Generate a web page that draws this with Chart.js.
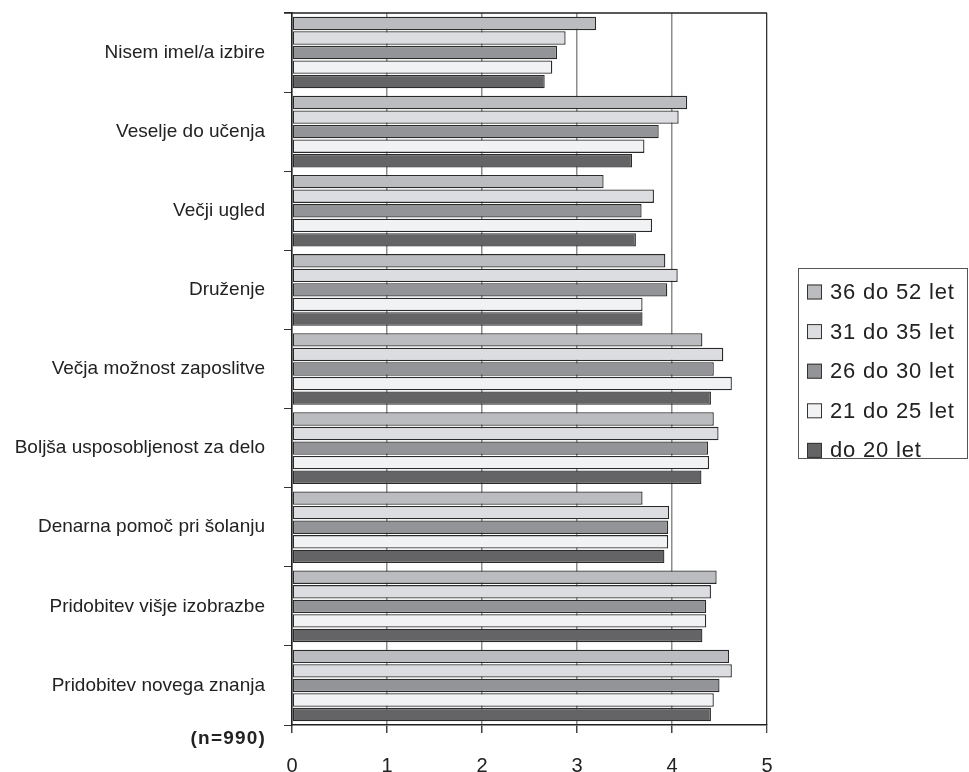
<!DOCTYPE html>
<html>
<head>
<meta charset="utf-8">
<script src="https://cdn.jsdelivr.net/npm/chart.js@4"></script>
<style>
    html, body { margin: 0; padding: 0; background: #fff; }
    #wrap { width: 969px; height: 772px; }
</style>
</head>
<body>
<div id="wrap"><canvas id="chart" width="969" height="772"></canvas></div>
<script>
const categories = [
    "Nisem imel/a izbire",
    "Veselje do učenja",
    "Večji ugled",
    "Druženje",
    "Večja možnost zaposlitve",
    "Boljša usposobljenost za delo",
    "Denarna pomoč pri šolanju",
    "Pridobitev višje izobrazbe",
    "Pridobitev novega znanja"
];

const seriesLabels = ["36 do 52 let", "31 do 35 let", "26 do 30 let", "21 do 25 let", "do 20 let"];
const seriesColors = ["#bbbcbf", "#dcdde0", "#939497", "#f1f2f4", "#646467"];

const age36to52 = [3.20, 4.16, 3.28, 3.93, 4.32, 4.44, 3.69, 4.47, 4.60];
const age31to35 = [2.88, 4.07, 3.81, 4.06, 4.54, 4.49, 3.97, 4.41, 4.63];
const age26to30 = [2.79, 3.86, 3.68, 3.95, 4.44, 4.38, 3.96, 4.36, 4.50];
const age21to25 = [2.74, 3.71, 3.79, 3.69, 4.63, 4.39, 3.96, 4.36, 4.44];
const ageTo20 = [2.66, 3.58, 3.62, 3.69, 4.41, 4.31, 3.92, 4.32, 4.41];

const xMin = 0;
const xMax = 5;
const sampleNote = "(n=990)";

const seriesValues = [age36to52, age31to35, age26to30, age21to25, ageTo20];

const FONT = "'Liberation Sans', Arial, sans-serif";

// top border, sample size note and boxed legend
const extras = {
    id: "extras",
    afterDraw(chart) {
        const ctx = chart.ctx;
        const area = chart.chartArea;

        ctx.save();
        ctx.strokeStyle = "#222";
        ctx.lineWidth = 1.5;
        ctx.beginPath();
        ctx.moveTo(area.left - 8, area.top);
        ctx.lineTo(area.right, area.top);
        ctx.stroke();

        ctx.fillStyle = "#222";
        ctx.font = "bold 19px " + FONT;
        ctx.letterSpacing = "1.2px";
        ctx.textAlign = "right";
        ctx.textBaseline = "middle";
        ctx.fillText(sampleNote, 266, 739);

        ctx.strokeStyle = "#555";
        ctx.lineWidth = 1;
        ctx.strokeRect(798.5, 268.5, 169, 190);

        ctx.font = "22px " + FONT;
        ctx.letterSpacing = "0.8px";
        ctx.textAlign = "left";
        chart.data.datasets.forEach((ds, i) => {
            const y = 292 + i * 39.6;
            ctx.fillStyle = ds.backgroundColor;
            ctx.fillRect(807, y - 7.5, 15, 15);
            ctx.strokeStyle = "#333";
            ctx.strokeRect(807.5, y - 7, 14, 14);
            ctx.fillStyle = "#222";
            ctx.fillText(ds.label, 830, y + 1);
        });
        ctx.restore();
    }
};

new Chart(document.getElementById("chart"), {
    type: "bar",
    data: {
        labels: categories,
        datasets: seriesLabels.map((label, i) => ({
            label: label,
            data: seriesValues[i],
            backgroundColor: seriesColors[i],
            borderColor: "#2a2a2a",
            borderWidth: 1.3,
            borderSkipped: false,
            categoryPercentage: 0.92,
            barPercentage: 0.92
        }))
    },
    options: {
        indexAxis: "y",
        responsive: false,
        animation: false,
        layout: {
            padding: { top: 13, right: 202, bottom: 0, left: 0 }
        },
        plugins: {
            legend: { display: false },
            tooltip: { enabled: false }
        },
        scales: {
            x: {
                min: xMin,
                max: xMax,
                afterFit: scale => { scale.height = 47; },
                ticks: {
                    stepSize: 1,
                    color: "#222",
                    padding: 21,
                    font: { family: FONT, size: 20 }
                },
                grid: {
                    color: c => (c.tick && c.tick.value === xMax) ? "#333" : "#8c8c8c",
                    lineWidth: c => (c.tick && c.tick.value === xMax) ? 1.3 : 1.5,
                    tickColor: "#444",
                    tickLength: 8
                },
                border: { color: "#222", width: 1.5 }
            },
            y: {
                afterFit: scale => {
                    scale.width = 292;
                    scale.paddingTop = 0;
                    scale.paddingBottom = 0;
                },
                ticks: {
                    autoSkip: false,
                    color: "#222",
                    padding: 19,
                    font: { family: FONT, size: 19 }
                },
                grid: {
                    offset: true,
                    drawOnChartArea: false,
                    color: "#333",
                    tickLength: 8
                },
                border: { color: "#222", width: 1.5 }
            }
        }
    },
    plugins: [extras]
});
</script>
</body>
</html>
